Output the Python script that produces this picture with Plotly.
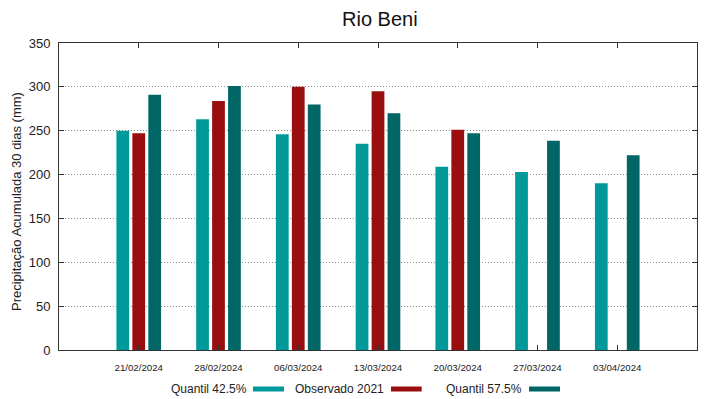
import plotly.graph_objects as go

dates = ["21/02/2024", "28/02/2024", "06/03/2024", "13/03/2024",
         "20/03/2024", "27/03/2024", "03/04/2024"]
q425 = [250, 263, 246, 235, 209, 203, 190]
obs2021 = [247, 284, 300, 295, 251, None, None]
q575 = [291, 301, 280, 270, 247, 238.5, 222]

names = ["Quantil 42.5%", "Observado 2021", "Quantil 57.5%"]
colors = ["#009999", "#990e0e", "#006666"]
series = [q425, obs2021, q575]

xpos = list(range(1, len(dates) + 1))

fig = go.Figure()
for name, col, vals in zip(names, colors, series):
    fig.add_trace(go.Bar(x=xpos, y=vals, name=name, marker_color=col,
                         marker_line_width=0, showlegend=False))

FONT = "Liberation Sans, Arial, sans-serif"

# page body has an 8px default margin, so the figure is sized 711x391
fig.update_layout(
    width=711, height=391,
    margin=dict(l=51, r=22, t=35, b=49, autoexpand=False),
    paper_bgcolor="white", plot_bgcolor="white",
    barmode="group", bargap=0.4, bargroupgap=0.2,
    font=dict(family=FONT, color="#222222"),
    title=dict(text="Rio Beni", x=0.523, xanchor="center", y=0.99, yanchor="top",
               font=dict(size=20, family=FONT, color="#111111")),
)

fig.update_xaxes(
    range=[0, 8], tickmode="array", tickvals=xpos, ticktext=dates,
    tickfont=dict(size=9.7, family=FONT, color="#222222"),
    ticks="inside", ticklen=5, tickcolor="#333333",
    showline=True, linecolor="#333333", linewidth=1, mirror="ticks",
    showgrid=False, zeroline=False, ticklabelstandoff=8, automargin=False,
)
fig.update_yaxes(
    range=[0, 350], dtick=50, tick0=0,
    tickfont=dict(size=13, family=FONT, color="#222222"),
    ticks="inside", ticklen=5, tickcolor="#333333",
    showline=True, linecolor="#333333", linewidth=1, mirror="ticks",
    showgrid=True, gridcolor="#8c8c8c", gridwidth=1, griddash="1px,2px",
    zeroline=False, automargin=False, ticklabelstandoff=5,
)

# y-axis title placed as rotated text
fig.add_annotation(text="Precipitação Acumulada 30 dias (mm)", xref="paper", yref="paper",
                   x=-0.0674, y=0.4853, xanchor="center", yanchor="middle",
                   textangle=-90, showarrow=False,
                   font=dict(size=13, family=FONT, color="#222222"))

# gnuplot-style legend: text followed by a colour swatch
leg_text_right = [0.2971, 0.5123, 0.7292]
leg_sw = [(0.304, 0.3527), (0.5204, 0.5685), (0.7367, 0.7853)]
for name, col, tr, (x0, x1) in zip(names, colors, leg_text_right, leg_sw):
    fig.add_annotation(text=name, xref="paper", yref="paper", x=tr, y=-0.127,
                       xanchor="right", yanchor="middle", showarrow=False,
                       font=dict(size=12, family=FONT, color="#222222"))
    fig.add_shape(type="rect", xref="paper", yref="paper", x0=x0, x1=x1,
                  y0=-0.1189, y1=-0.1352, fillcolor=col, line_width=0)

fig.write_html("out.html")
